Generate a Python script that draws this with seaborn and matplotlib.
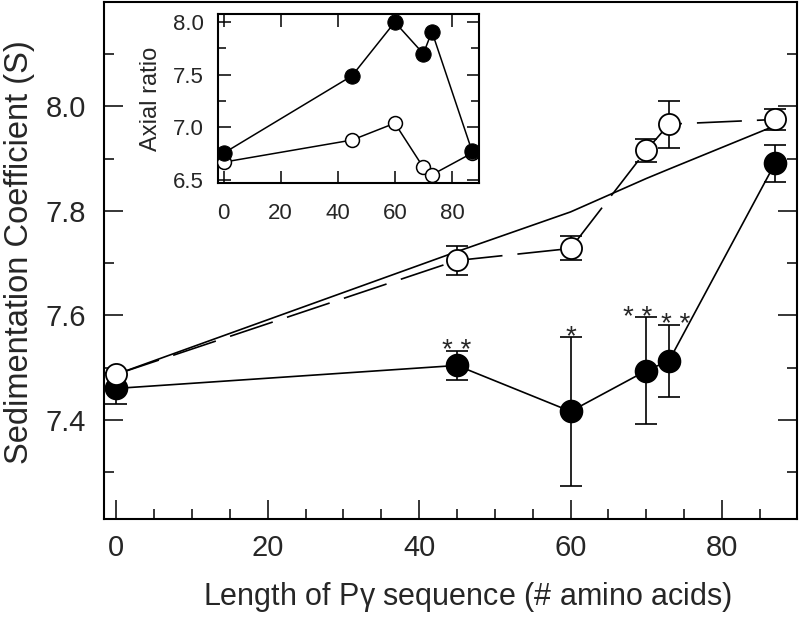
import numpy as np
import pandas as pd
import matplotlib
matplotlib.use("Agg")
import matplotlib.pyplot as plt
import seaborn as sns
from matplotlib.ticker import MultipleLocator, FixedLocator

# ---- data ----
length = [0, 45, 60, 70, 73, 87]
filled_s = [7.46, 7.504, 7.416, 7.494, 7.513, 7.891]
filled_err = [0.03, 0.028, 0.143, 0.103, 0.069, 0.035]
open_s = [7.487, 7.705, 7.728, 7.916, 7.966, 7.975]
open_err = [0.0, 0.027, 0.023, 0.022, 0.045, 0.02]
model_x = [0, 45, 60, 70, 73, 87]
model_s = [7.487, 7.722, 7.798, 7.862, 7.880, 7.963]
stars = ["* *", "*", "* *", "* *"]
star_x = [45, 60, 68.9, 73.9]
star_idx = [1, 2, 3, 4]
y_ticks = [7.4, 7.6, 7.8, 8.0]
x_ticks = [0, 20, 40, 60, 80]

inset_filled = [6.755, 7.49, 8.0, 7.70, 7.91, 6.78]
inset_open = [6.67, 6.88, 7.04, 6.62, 6.55, 6.755]
inset_y_ticks = [6.5, 7.0, 7.5, 8.0]

sns.set_theme(style="white")
plt.rcParams['font.family'] = ['Liberation Sans', 'DejaVu Sans']
plt.rcParams['mathtext.fontset'] = 'custom'
plt.rcParams['mathtext.rm'] = 'Liberation Sans'
plt.rcParams['mathtext.it'] = 'Liberation Sans'

fig = plt.figure(figsize=(8.01, 6.19), dpi=100)
ax = fig.add_axes([0.130, 0.1616, 0.865, 0.8352])

df_f = pd.DataFrame({"x": length, "y": filled_s})
df_o = pd.DataFrame({"x": length, "y": open_s})
df_m = pd.DataFrame({"x": model_x, "y": model_s})

lw = 1.2
sns.lineplot(data=df_m, x="x", y="y", ax=ax, color="black", lw=lw, sort=False, zorder=2)
sns.lineplot(data=df_o, x="x", y="y", ax=ax, color="black", lw=lw, sort=False, zorder=2,
             linestyle=(0, (27, 9)))
sns.lineplot(data=df_f, x="x", y="y", ax=ax, color="black", lw=lw, sort=False, zorder=2)

ax.errorbar(length, filled_s, yerr=filled_err, fmt="none", ecolor="black", elinewidth=1.2,
            capsize=7.9, capthick=1.2, zorder=3)
ax.errorbar(length[1:], open_s[1:], yerr=open_err[1:], fmt="none", ecolor="black", elinewidth=1.2,
            capsize=7.9, capthick=1.2, zorder=3)

ax.plot(length, filled_s, "o", ms=15.8, mfc="black", mec="black", mew=1.2, zorder=4, ls="none")
ax.plot(length, open_s, "o", ms=15.2, mfc="white", mec="black", mew=1.3, zorder=5, ls="none")

for sx, lab, j in zip(star_x, stars, star_idx):
    ax.annotate(lab, xy=(sx, filled_s[j] + filled_err[j]), xytext=(0, -5.5),
                textcoords="offset points", ha="center", va="baseline",
                fontsize=20, zorder=6)

ax.set_xlim(-1.6, 89.9)
ax.set_ylim(7.21, 8.2)
ax.xaxis.set_major_locator(FixedLocator(x_ticks))
ax.xaxis.set_minor_locator(MultipleLocator(5))
ax.yaxis.set_major_locator(FixedLocator(y_ticks))
ax.yaxis.set_minor_locator(MultipleLocator(0.1))
ax.set_yticklabels([f"{v:.1f}" for v in y_ticks])
ax.set_xticklabels([str(v) for v in x_ticks])
ax.tick_params(which="both", direction="in", color="black", width=1.1,
               left=True, bottom=True, right=True, top=False, labelsize=21)
ax.tick_params(axis="y", pad=13)
ax.tick_params(axis="x", pad=11)
ax.tick_params(which="major", length=14)
ax.tick_params(which="minor", length=7)
for sp in ax.spines.values():
    sp.set_color("black")
    sp.set_linewidth(1.5)
ax.set_xlabel("Length of P$\\gamma$ sequence (# amino acids)", fontsize=22)
ax.set_ylabel("Sedimentation Coefficient (S)", fontsize=23.5)
ax.xaxis.set_label_coords(0.525, -0.118)
ax.yaxis.set_label_coords(-0.100, 0.516)
ax.grid(False)

# ---- inset ----
ins = fig.add_axes([0.272, 0.704, 0.326, 0.273])
df_if = pd.DataFrame({"x": length, "y": inset_filled})
df_io = pd.DataFrame({"x": length, "y": inset_open})
sns.lineplot(data=df_io, x="x", y="y", ax=ins, color="black", lw=1.1, sort=False,
             marker="o", markersize=10, markerfacecolor="white", markeredgecolor="black",
             markeredgewidth=1.1, zorder=3)
sns.lineplot(data=df_if, x="x", y="y", ax=ins, color="black", lw=1.1, sort=False,
             marker="o", markersize=11, markerfacecolor="black", markeredgecolor="black",
             zorder=4)
ins.set_xlim(-2, 89.5)
ins.set_ylim(6.47, 8.075)
ins.xaxis.set_major_locator(FixedLocator(x_ticks))
ins.yaxis.set_major_locator(FixedLocator(inset_y_ticks))
ins.yaxis.set_minor_locator(MultipleLocator(0.25))
ins.set_yticklabels([f"{v:.1f}" for v in inset_y_ticks])
ins.set_xticklabels([str(v) for v in x_ticks])
ins.tick_params(which="both", direction="in", color="black", width=1.1,
                left=True, bottom=True, right=True, top=True, labelsize=16)
ins.tick_params(axis="y", pad=10)
ins.tick_params(axis="x", pad=14)
ins.tick_params(which="major", length=9)
ins.tick_params(which="minor", length=6)
ins.set_xlabel("")
ins.set_ylabel("Axial ratio", fontsize=17, labelpad=8)
for sp in ins.spines.values():
    sp.set_color("black")
    sp.set_linewidth(1.5)
ins.grid(False)

fig.savefig("out.png", dpi=100)
